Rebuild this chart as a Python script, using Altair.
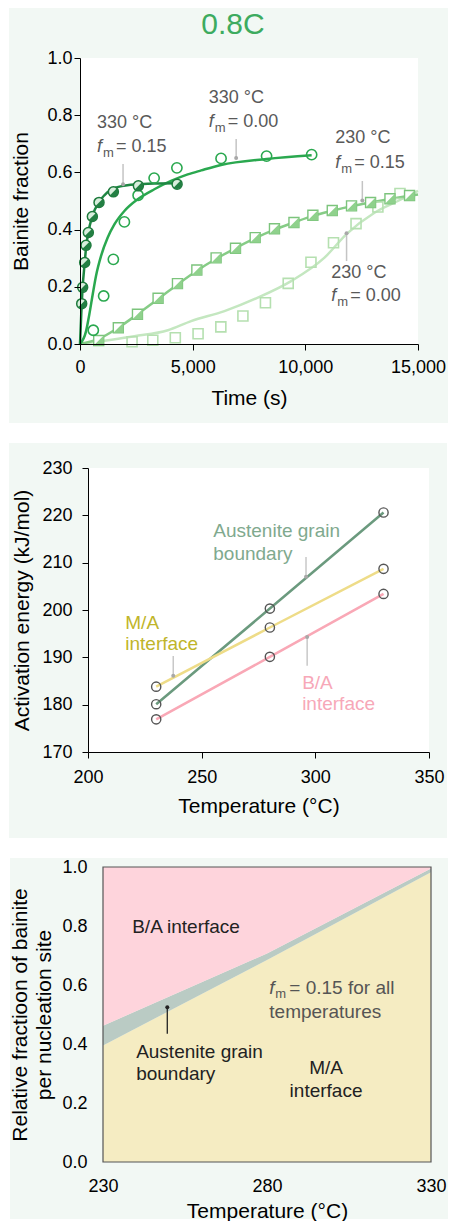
import altair as alt
import pandas as pd

FONT = "Liberation Sans"
PANEL_BG = "#f2f8f4"

# ---------------- Panel 1: bainite fraction vs time ----------------
p1_title = "0.8C"
s330_015_t = [75, 118, 208, 266, 370, 548, 844, 1481, 2590, 4309]
s330_015_f = [0.141, 0.198, 0.285, 0.345, 0.390, 0.446, 0.495, 0.532, 0.553, 0.559]
fit330_015_t = [0, 75, 118, 208, 266, 370, 548, 844, 1080, 1481, 2100, 2590, 3300, 4300]
fit330_015_f = [0, 0.14, 0.2, 0.283, 0.335, 0.39, 0.447, 0.497, 0.52, 0.543, 0.555, 0.558, 0.561, 0.562]

s330_000_t = [590, 1050, 1480, 1970, 2580, 3290, 4300, 6260, 8280, 10280]
s330_000_f = [0.048, 0.168, 0.296, 0.427, 0.52, 0.58, 0.616, 0.649, 0.657, 0.662]
fit330_000_t = [0, 270, 415, 565, 710, 935, 1230, 1525, 1970, 2560, 3300, 4040, 4780, 5380, 6260, 8280, 10280]
fit330_000_f = [0, 0.045, 0.104, 0.174, 0.238, 0.308, 0.372, 0.418, 0.465, 0.506, 0.541, 0.57, 0.593, 0.607, 0.626, 0.647, 0.66]

s230_015_t = [830, 1700, 2550, 3465, 4325, 5185, 6040, 6900, 7775, 8630, 9495, 10335, 11195, 12050, 12895, 13755, 14625]
s230_015_f = [0.012, 0.057, 0.104, 0.160, 0.211, 0.259, 0.301, 0.335, 0.372, 0.403, 0.425, 0.450, 0.467, 0.483, 0.495, 0.508, 0.519]
fit230_015_t = [0, 830, 1700, 2550, 3465, 4325, 5185, 6040, 6900, 7775, 8630, 9495, 10335, 11195, 12050, 12895, 13755, 14625, 15000]
fit230_015_f = [0, 0.018, 0.057, 0.104, 0.157, 0.208, 0.256, 0.298, 0.335, 0.37, 0.4, 0.425, 0.448, 0.466, 0.482, 0.495, 0.507, 0.518, 0.523]

s230_000_t = [2310, 3230, 4230, 5240, 6250, 7230, 8230, 9240, 10250, 11250, 12250, 13220, 14200]
s230_000_f = [0.008, 0.013, 0.022, 0.036, 0.06, 0.098, 0.144, 0.212, 0.286, 0.354, 0.421, 0.479, 0.526]
fit230_000_t = [0, 2410, 3900, 4930, 6410, 7890, 9370, 10850, 11850, 13070, 14110, 15000]
fit230_000_f = [0, 0.027, 0.048, 0.08, 0.115, 0.162, 0.22, 0.302, 0.386, 0.459, 0.5, 0.535]

p1_ann_temp = ["330 °C", "330 °C", "230 °C", "230 °C"]
p1_ann_fm = ["= 0.15", "= 0.00", "= 0.15", "= 0.00"]
p1_ann_t = [755, 5710, 11330, 11150]
p1_ann_f1 = [0.774, 0.861, 0.719, 0.249]
p1_ann_f2 = [0.690, 0.777, 0.634, 0.168]
p1_lead_t = [1910, 6930, 12530, 11830]
p1_lead_from = [0.629, 0.717, 0.570, 0.290]
p1_lead_dot = [0.559, 0.650, 0.502, 0.387]

# ---------------- Panel 2: activation energy ----------------
p2_temp = [230, 280, 330]
p2_agb = [180.1, 200.3, 220.6]
p2_ma = [183.8, 196.3, 208.7]
p2_ba = [176.9, 190.1, 203.4]
p2_series = ["Austenite grain boundary", "M/A interface", "B/A interface"]
p2_line_colors = ["#6b9a7e", "#eedc88", "#f9a8b6"]
p2_text_colors = ["#80a98e", "#bfb52a", "#f7a8b8"]
p2_lab_text = ["Austenite grain", "boundary", "M/A", "interface", "B/A", "interface"]
p2_lab_series = [0, 0, 1, 1, 2, 2]
p2_lab_x = [255.1, 255.1, 216.4, 216.4, 294.2, 294.2]
p2_lab_y = [216.7, 211.8, 197.3, 192.8, 184.6, 180.1]
p2_lead_x = [295.9, 237.5, 296.4]
p2_lead_from = [211.2, 190.3, 188.2]
p2_lead_dot = [207.0, 186.1, 194.3]

# ---------------- Panel 3: relative fraction ----------------
p3_temp = [230, 280, 330]
p3_ma_top = [0.395, 0.685, 0.982]
p3_agb_top = [0.462, 0.707, 0.995]
p3_lead_x = 249.6
p3_lead_from = 0.435
p3_lead_dot = 0.525


def axis(**kw):
    base = dict(grid=False, domainColor="black", tickColor="black", labelColor="black",
                labelFont=FONT, labelFontSize=18, titleFont=FONT, titleFontSize=21,
                titleFontWeight="normal", titleColor="black", labelFlush=False,
                labelOverlap=False, zindex=2)
    base.update(kw)
    return alt.Axis(**base)


def panel_bg(left, right, top, bottom, w, h, white=True):
    one = pd.DataFrame({"k": [0]})
    layers = [alt.Chart(one).mark_rect(color=PANEL_BG).encode(
        x=alt.value(-left), x2=alt.value(right), y=alt.value(-top), y2=alt.value(bottom))]
    if white:
        layers.append(alt.Chart(one).mark_rect(color="white").encode(
            x=alt.value(0), x2=alt.value(w), y=alt.value(0), y2=alt.value(h)))
    return layers


def spacer():
    return alt.Chart(pd.DataFrame({"k": [0]})).mark_text(text="").encode(
        x=alt.value(0), y=alt.value(0)).properties(width=1, height=1)


# ================= Panel 1 =================
W1, H1 = 338, 286
X1 = alt.X("t:Q", scale=alt.Scale(domain=[0, 15000], nice=False), title="Time (s)",
           axis=axis(values=[0, 5000, 10000, 15000], format=",.0f", tickSize=6, labelPadding=8,
                     titleY=60, titleBaseline="alphabetic"))
Y1 = alt.Y("f:Q", scale=alt.Scale(domain=[0, 1], nice=False), title="Bainite fraction",
           axis=axis(values=[0, 0.2, 0.4, 0.6, 0.8, 1.0], format=".1f", tickSize=6, labelPadding=2,
                     titleX=-53, titleY=H1 / 2, titleBaseline="alphabetic", titleAlign="center"))


def df1(t, f):
    return pd.DataFrame({"t": t, "f": f})


def line1(t, f, color):
    return alt.Chart(df1(t, f)).mark_line(color=color, strokeWidth=2.5, interpolate="monotone").encode(x=X1, y=Y1)


HALF_CIRCLE = "M 0.707 -0.707 A 1 1 0 0 1 -0.707 0.707 Z"
TRIANGLE = "M 1 -1 L 1 1 L -1 1 Z"

c1, c2, c3, c4 = "#1f8743", "#2aa84f", "#86cc86", "#c4e7c0"

p1_layers = panel_bg(71, 368, 50, 365, W1, H1) + [
    line1(fit230_000_t, fit230_000_f, c4),
    line1(fit230_015_t, fit230_015_f, c3),
    line1(fit330_000_t, fit330_000_f, c2),
    line1(fit330_015_t, fit330_015_f, c1),
    alt.Chart(df1(s230_000_t, s230_000_f)).mark_point(shape="square", filled=False, color="#b5e0b0",
                                                      size=100, strokeWidth=1.6, opacity=1).encode(x=X1, y=Y1),
    alt.Chart(df1(s230_015_t, s230_015_f)).mark_point(shape="square", filled=True, fill="white",
                                                      stroke="#7cc47c", size=100, strokeWidth=1.4,
                                                      opacity=1).encode(x=X1, y=Y1),
    alt.Chart(df1(s230_015_t, s230_015_f)).mark_point(shape=TRIANGLE, filled=True, color="#8fd18c",
                                                      size=100, opacity=1).encode(x=X1, y=Y1),
    alt.Chart(df1(s330_000_t, s330_000_f)).mark_point(shape="circle", filled=False, color=c2,
                                                      size=105, strokeWidth=1.6, opacity=1).encode(x=X1, y=Y1),
    alt.Chart(df1(s330_015_t, s330_015_f)).mark_point(shape="circle", filled=True, fill="#d9eedd",
                                                      stroke="#1d7a3c", size=100, strokeWidth=1.5,
                                                      opacity=1).encode(x=X1, y=Y1),
    alt.Chart(df1(s330_015_t, s330_015_f)).mark_point(shape=HALF_CIRCLE, filled=True, color="#237f43",
                                                      size=100, opacity=1).encode(x=X1, y=Y1),
]

lead1 = pd.DataFrame({"t": p1_lead_t, "f": p1_lead_from, "f2": p1_lead_dot})
dot1 = pd.DataFrame({"t": p1_lead_t, "f": p1_lead_dot})
p1_layers += [
    alt.Chart(lead1).mark_rule(color="#c4c4c4", strokeWidth=1.5).encode(x=X1, y=Y1, y2=alt.Y2("f2")),
    alt.Chart(dot1).mark_point(filled=True, color="#a8a8a8", size=16, opacity=1).encode(x=X1, y=Y1),
]

ann1a = pd.DataFrame({"t": p1_ann_t, "f": p1_ann_f1, "txt": p1_ann_temp})
ann1b = pd.DataFrame({"t": p1_ann_t, "f": p1_ann_f2, "txt": ["f"] * 4})
ann1c = pd.DataFrame({"t": p1_ann_t, "f": p1_ann_f2, "txt": ["m"] * 4})
ann1d = pd.DataFrame({"t": p1_ann_t, "f": p1_ann_f2, "txt": p1_ann_fm})
tx = dict(font=FONT, color="#595959", align="left", baseline="middle")
p1_layers += [
    alt.Chart(ann1a).mark_text(fontSize=18, **tx).encode(x=X1, y=Y1, text="txt:N"),
    alt.Chart(ann1b).mark_text(fontSize=18, fontStyle="italic", **tx).encode(x=X1, y=Y1, text="txt:N"),
    alt.Chart(ann1c).mark_text(fontSize=13, dx=6, dy=6, **tx).encode(x=X1, y=Y1, text="txt:N"),
    alt.Chart(ann1d).mark_text(fontSize=18, dx=19, **tx).encode(x=X1, y=Y1, text="txt:N"),
    alt.Chart(pd.DataFrame({"txt": [p1_title]})).mark_text(
        font=FONT, fontSize=30, color="#3dab5f", align="center", baseline="middle").encode(
        x=alt.value(153), y=alt.value(-33), text="txt:N"),
]
panel1 = alt.layer(*p1_layers).properties(width=W1, height=H1)

# ================= Panel 2 =================
W2, H2 = 341, 284
X2 = alt.X("temp:Q", scale=alt.Scale(domain=[200, 350], nice=False), title="Temperature (°C)",
           axis=axis(values=[200, 250, 300, 350], format=".0f", tickSize=6, labelPadding=10,
                     titleY=60, titleBaseline="alphabetic"))
Y2 = alt.Y("e:Q", scale=alt.Scale(domain=[170, 230], nice=False), title="Activation energy (kJ/mol)",
           axis=axis(values=[170, 180, 190, 200, 210, 220, 230], format=".0f", tickSize=6, labelPadding=10,
                     titleX=-60, titleY=H2 / 2, titleBaseline="alphabetic", titleAlign="center"))

rows = []
for name, vals in zip(p2_series, [p2_agb, p2_ma, p2_ba]):
    for tt, v in zip(p2_temp, vals):
        rows.append({"temp": tt, "e": v, "series": name})
df2 = pd.DataFrame(rows)
col2 = alt.Color("series:N", scale=alt.Scale(domain=p2_series, range=p2_line_colors), legend=None)

lab2 = pd.DataFrame({"temp": p2_lab_x, "e": p2_lab_y, "txt": p2_lab_text,
                     "series": [p2_series[i] for i in p2_lab_series]})
lead2 = pd.DataFrame({"temp": p2_lead_x, "e": p2_lead_from, "e2": p2_lead_dot})
dot2 = pd.DataFrame({"temp": p2_lead_x, "e": p2_lead_dot})

p2_layers = panel_bg(79, 359, 25, 370, W2, H2) + [
    alt.Chart(df2).mark_line(strokeWidth=2.5).encode(x=X2, y=Y2, color=col2, detail="series:N"),
    alt.Chart(df2).mark_point(shape="circle", filled=False, color="#555555", size=85,
                              strokeWidth=1.4, opacity=1).encode(x=X2, y=Y2),
    alt.Chart(lead2).mark_rule(color="#c8c8c8", strokeWidth=1.5).encode(x=X2, y=Y2, y2=alt.Y2("e2")),
    alt.Chart(dot2).mark_point(filled=True, color="#a8a8a8", size=16, opacity=1).encode(x=X2, y=Y2),
    alt.Chart(lab2).mark_text(font=FONT, fontSize=19, align="left", baseline="middle").encode(
        x=X2, y=Y2, text="txt:N",
        color=alt.Color("series:N", scale=alt.Scale(domain=p2_series, range=p2_text_colors), legend=None)),
]
panel2 = alt.layer(*p2_layers).resolve_scale(color="independent").properties(width=W2, height=H2)

# ================= Panel 3 =================
W3, H3 = 328, 295
X3 = alt.X("temp:Q", scale=alt.Scale(domain=[230, 330], nice=False), title="Temperature (°C)",
           axis=axis(values=[230, 280, 330], format=".0f", ticks=False, tickSize=0, domain=False,
                     labelPadding=15, titleY=55, titleBaseline="alphabetic"))
Y3 = alt.Y("lo:Q", scale=alt.Scale(domain=[0, 1], nice=False),
           title=["Relative fractioon of bainite", "per nucleation site"],
           axis=axis(values=[0, 0.2, 0.4, 0.6, 0.8, 1.0], format=".1f", ticks=False, tickSize=0,
                     domain=False, labelPadding=16, titleX=-77, titleY=H3 / 2,
                     titleBaseline="alphabetic", titleAlign="center", titleLineHeight=24))

df3 = pd.DataFrame({"temp": p3_temp, "ma": p3_ma_top, "agb": p3_agb_top,
                    "zero": [0] * 3, "one": [1] * 3})


def area3(lo, hi, color):
    d = df3.rename(columns={lo: "lo", hi: "hi"})
    return alt.Chart(d).mark_area(color=color, opacity=1, interpolate="linear").encode(
        x=X3, y=Y3, y2=alt.Y2("hi"))


def text3(x, y, s, color="#222222", align="left", size=19, **kw):
    d = pd.DataFrame({"temp": [x], "lo": [y], "txt": [s]})
    return alt.Chart(d).mark_text(font=FONT, fontSize=size, color=color, align=align,
                                  baseline="middle", **kw).encode(x=X3, y=Y3, text="txt:N")


lead3 = pd.DataFrame({"temp": [p3_lead_x], "lo": [p3_lead_from], "hi": [p3_lead_dot]})
dot3 = pd.DataFrame({"temp": [p3_lead_x], "lo": [p3_lead_dot]})
p3_layers = panel_bg(93, 345, 9, 352, W3, H3, white=False) + [
    area3("zero", "ma", "#f5ecc2"),
    area3("ma", "agb", "#bacbc4"),
    area3("agb", "one", "#fed4dc"),
    alt.Chart(lead3).mark_rule(color="#222222", strokeWidth=1.3).encode(x=X3, y=Y3, y2=alt.Y2("hi")),
    alt.Chart(dot3).mark_point(filled=True, color="#222222", size=16, opacity=1).encode(x=X3, y=Y3),
    text3(238.9, 0.796, "B/A interface"),
    text3(280.7, 0.590, "f", color="#555555", fontStyle="italic"),
    text3(280.7, 0.590, "m", color="#555555", size=13, dx=6, dy=6),
    text3(280.7, 0.590, "= 0.15 for all", color="#555555", dx=20),
    text3(280.7, 0.509, "temperatures", color="#555555"),
    text3(240.1, 0.372, "Austenite grain"),
    text3(240.1, 0.297, "boundary"),
    text3(298.0, 0.318, "M/A", align="center"),
    text3(298.0, 0.241, "interface", align="center"),
    alt.Chart(pd.DataFrame({"k": [0]})).mark_rect(fillOpacity=0, stroke="#555555", strokeWidth=1.2).encode(
        x=alt.value(0), x2=alt.value(W3), y=alt.value(0), y2=alt.value(H3)),
]
panel3 = alt.layer(*p3_layers).properties(width=W3, height=H3)

chart = alt.vconcat(
    alt.hconcat(spacer(), panel1, spacing=0),
    alt.hconcat(spacer(), panel2, spacing=0),
    alt.hconcat(spacer(), panel3, spacing=0),
    spacing=20,
).properties(padding=0, background="white").configure_view(stroke=None)

chart.save("out.html", embed_options={"renderer": "svg", "actions": False})
